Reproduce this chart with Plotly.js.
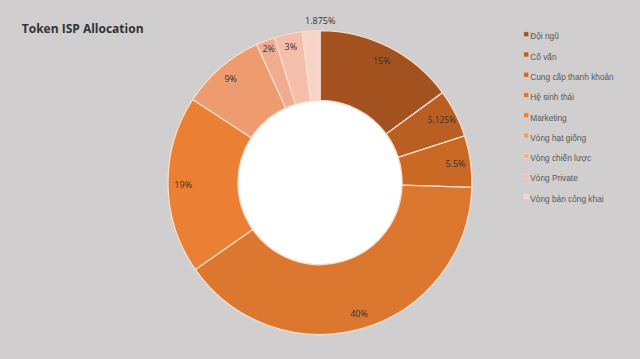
<!DOCTYPE html>
<html>
<head>
<meta charset="utf-8">
<script src="https://cdn.plot.ly/plotly-3.0.1.min.js"></script>
<style>
html,body{margin:0;padding:0;background:#D0CECE;}
#chart{width:640px;height:359px;}
.legendpie{transform:translate(36px,0) scale(0.42);}
.legendtext{font-size:8.3px !important;}
</style>
</head>
<body>
<div id="chart"></div>
<script>
const labels = ["Đội ngũ","Cố vấn","Cung cấp thanh khoản","Hệ sinh thái","Marketing","Vòng hạt giống","Vòng chiến lược","Vòng Private","Vòng bán công khai"];
const values = [15, 5.125, 5.5, 40, 19, 9, 2, 3, 1.875];
const valueText = ["15%","5.125%","5.5%","40%","19%","9%","2%","3%","1.875%"];
const colors = ["#A3521F","#BA5F22","#C96924","#DC772F","#EB7F33","#EE9B70","#F1AC90","#F4BEAB","#F7D4C8"];
// the last, very thin slice has its label placed above the ring
const labelPos = ["inside","inside","inside","inside","inside","inside","inside","inside","none"];

const dom = {x:[0.2625,0.7375], y:[0.068,0.915]};
const holeFrac = 0.54;

const ring = {
  type:'pie', labels:labels, values:values, sort:false, direction:'clockwise', rotation:0,
  hole:holeFrac, domain:dom,
  marker:{colors:colors, line:{color:'#F9DCCB', width:1.3}},
  textinfo:'none', hoverinfo:'label+percent', showlegend:true
};
const textRing = {
  type:'pie', labels:labels, values:values, sort:false, direction:'clockwise', rotation:0,
  hole:0.8, domain:dom,
  marker:{colors:colors.map(()=> 'rgba(0,0,0,0)'), line:{width:0}},
  text:valueText, textinfo:'text', textposition:labelPos,
  insidetextorientation:'horizontal',
  textfont:{family:'Open Sans', size:9, color:'#3A3030'},
  hoverinfo:'skip', showlegend:false
};

// white hole of the donut
const cxP = (dom.x[0]+dom.x[1])/2, cyP = (dom.y[0]+dom.y[1])/2;
const rPx = Math.min((dom.x[1]-dom.x[0])*640, (dom.y[1]-dom.y[0])*359)/2 * holeFrac;

const layout = {
  width:640, height:359,
  paper_bgcolor:'#D0CECE', plot_bgcolor:'#D0CECE',
  margin:{l:0,r:0,t:0,b:0},
  title:{text:'<b>Token ISP Allocation</b>', xref:'container', yref:'container', x:0.034, xanchor:'left', y:0.92, yanchor:'middle',
    font:{family:'Open Sans', size:12, color:'#333333'}},
  legend:{x:0.766, xanchor:'left', y:0.947, yanchor:'top', bgcolor:'rgba(0,0,0,0)',
    font:{family:'Liberation Sans', size:13.3, color:'#595959'}, itemwidth:30},
  shapes:[{type:'circle', xref:'paper', yref:'paper', layer:'below',
    x0:cxP - rPx/640, x1:cxP + rPx/640, y0:cyP - rPx/359, y1:cyP + rPx/359,
    fillcolor:'#FFFFFF', line:{width:0}}],
  annotations:[{text:valueText[8], xref:'paper', yref:'paper', x:cxP, y:0.942, xanchor:'center', yanchor:'middle',
    showarrow:false, font:{family:'Open Sans', size:9, color:'#3A3030'}}],
  showlegend:true
};
Plotly.newPlot('chart',[ring,textRing],layout,{displayModeBar:false, staticPlot:true});
</script>
</body>
</html>
